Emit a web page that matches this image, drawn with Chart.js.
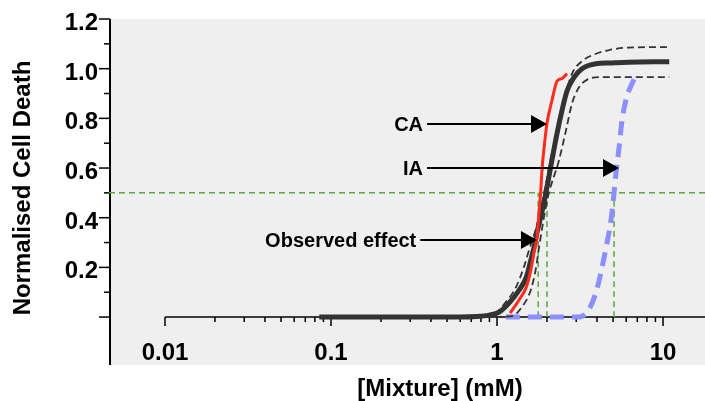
<!DOCTYPE html>
<html>
<head>
<meta charset="utf-8">
<script src="https://cdn.jsdelivr.net/npm/chart.js@4/dist/chart.umd.min.js"></script>
<style>
  html, body { margin: 0; padding: 0; background: #fff; }
</style>
</head>
<body>
<canvas id="doseChart" width="705" height="401"></canvas>
<script>
// Observed mixture effect (fitted curve) and its confidence band
var observedX = [0.085, 0.6, 0.75, 0.895, 1.03, 1.18, 1.36, 1.50, 1.60, 1.67, 1.74, 1.86, 1.97, 2.14, 2.30, 2.46, 2.64, 2.91, 3.25, 3.95, 4.73, 6.2, 10.9];
var observedY = [0, 0, 0.002, 0.008, 0.02, 0.056, 0.109, 0.16, 0.23, 0.28, 0.34, 0.42, 0.50, 0.63, 0.74, 0.83, 0.91, 0.965, 1.0, 1.02, 1.023, 1.026, 1.028];

var upperX = [0.085, 0.6, 0.93, 1.13, 1.30, 1.45, 1.56, 1.74, 1.95, 2.14, 2.43, 2.60, 2.83, 3.25, 3.95, 4.73, 6.24, 10.9];
var upperY = [0, 0, 0.008, 0.06, 0.12, 0.20, 0.27, 0.37, 0.52, 0.66, 0.80, 0.90, 0.98, 1.03, 1.06, 1.075, 1.085, 1.087];

var lowerX = [0.085, 0.8, 1.23, 1.41, 1.60, 1.72, 1.79, 2.02, 2.36, 2.60, 2.83, 3.12, 3.48, 4.11, 10.9];
var lowerY = [0, 0, 0.004, 0.04, 0.11, 0.20, 0.28, 0.48, 0.63, 0.75, 0.86, 0.925, 0.955, 0.966, 0.966];

// Concentration addition (CA) prediction
var caX = [1.20, 1.36, 1.50, 1.60, 1.67, 1.74, 1.79, 1.83, 1.87, 1.92, 2.0, 2.14, 2.30, 2.46, 2.64];
var caY = [0.016, 0.07, 0.12, 0.19, 0.26, 0.32, 0.42, 0.50, 0.60, 0.68, 0.78, 0.87, 0.95, 0.96, 0.98];

// Independent action (IA) prediction
var iaX = [1.13, 3.12, 3.35, 3.58, 3.95, 4.23, 4.54, 4.86, 5.07, 5.21, 5.43, 5.66, 6.07, 6.51, 6.88];
var iaY = [0, 0, 0.008, 0.03, 0.10, 0.18, 0.28, 0.39, 0.50, 0.58, 0.68, 0.79, 0.89, 0.94, 0.974];

// 50 % effect guide and EC50 drop lines (CA, observed, IA)
var halfEffect = 0.5;
var ec50X = [1.77, 2.0, 5.07];

// axis ranges and ticks
var xRange = [0.0046, 17.9];
var yRange = [-0.193, 1.2];
var xMajorTicks = [0.01, 0.1, 1, 10];
var xTickLabels = ['0.01', '0.1', '1', '10'];
var xMinorTicks = [0.02, 0.03, 0.04, 0.05, 0.06, 0.07, 0.08, 0.09,
                   0.2, 0.3, 0.4, 0.5, 0.6, 0.7, 0.8, 0.9,
                   2, 3, 4, 5, 6, 7, 8, 9];
var yMajorTicks = [0, 0.2, 0.4, 0.6, 0.8, 1.0, 1.2];
var yTickLabels = ['', '0.2', '0.4', '0.6', '0.8', '1.0', '1.2'];
var yMinorTicks = [0.1, 0.3, 0.5, 0.7, 0.9, 1.1];

// arrow annotations: label, arrow start x, arrow tip x, y
var noteLabels = ['CA', 'IA', 'Observed effect'];
var noteStartX = [0.379, 0.379, 0.345];
var noteTipX = [2.0, 5.43, 1.74];
var noteY = [0.777, 0.60, 0.31];

function pts(xs, ys) {
    return xs.map(function (x, i) { return { x: x, y: ys[i] }; });
}

var FONT = '"Liberation Sans", Arial, sans-serif';
var GREEN = '#5ca83c';

var datasets = [
    { label: 'CA', data: pts(caX, caY), borderColor: '#ff2b1c', borderWidth: 3 },
    { label: 'Observed', data: pts(observedX, observedY), borderColor: '#333333', borderWidth: 5 },
    { label: 'Upper', data: pts(upperX, upperY), borderColor: '#333333', borderWidth: 1.8, borderDash: [7, 4] },
    { label: 'Lower', data: pts(lowerX, lowerY), borderColor: '#333333', borderWidth: 1.8, borderDash: [7, 4] },
    { label: 'IA', data: pts(iaX, iaY), borderColor: '#8c8fff', borderWidth: 5, borderDash: [14, 8] },
    { label: 'half', data: pts(xRange, [halfEffect, halfEffect]), borderColor: GREEN, borderWidth: 1.5, borderDash: [6, 4] }
];
ec50X.forEach(function (x) {
    datasets.push({ label: 'ec50', data: pts([x, x], [0, halfEffect]), borderColor: GREEN, borderWidth: 1.5, borderDash: [6, 4] });
});
datasets.forEach(function (d) {
    d.pointRadius = 0;
    d.fill = false;
    d.cubicInterpolationMode = 'monotone';
});

var axesPlugin = {
    id: 'prismAxes',
    beforeDatasetsDraw: function (chart) {
        var ctx = chart.ctx, a = chart.chartArea;
        var xs = chart.scales.x, ys = chart.scales.y;
        ctx.save();
        ctx.fillStyle = '#efefef';
        ctx.fillRect(a.left, a.top, a.right - a.left, a.bottom - a.top);

        ctx.strokeStyle = '#000';
        ctx.fillStyle = '#000';

        // y axis
        var ax = a.left + 1;
        ctx.lineWidth = 2;
        ctx.beginPath();
        ctx.moveTo(ax, a.top);
        ctx.lineTo(ax, a.bottom);
        ctx.stroke();
        ctx.lineWidth = 1.5;
        ctx.font = 'bold 24px ' + FONT;
        ctx.textAlign = 'right';
        ctx.textBaseline = 'alphabetic';
        yMajorTicks.forEach(function (v, i) {
            var py = ys.getPixelForValue(v);
            ctx.beginPath();
            ctx.moveTo(ax, py);
            ctx.lineTo(ax - 11, py);
            ctx.stroke();
            ctx.fillText(yTickLabels[i], ax - 12, py + 11);
        });
        yMinorTicks.forEach(function (v) {
            var py = ys.getPixelForValue(v);
            ctx.beginPath();
            ctx.moveTo(ax, py);
            ctx.lineTo(ax - 6, py);
            ctx.stroke();
        });

        // x axis at zero
        var y0 = ys.getPixelForValue(0);
        ctx.beginPath();
        ctx.moveTo(xs.getPixelForValue(xMajorTicks[0]), y0);
        ctx.lineTo(a.right, y0);
        ctx.stroke();
        ctx.textAlign = 'center';
        xMajorTicks.forEach(function (v, i) {
            var px = xs.getPixelForValue(v);
            ctx.beginPath();
            ctx.moveTo(px, y0);
            ctx.lineTo(px, y0 + 9);
            ctx.stroke();
            ctx.fillText(xTickLabels[i], px, y0 + 43);
        });
        xMinorTicks.forEach(function (v) {
            var px = xs.getPixelForValue(v);
            ctx.beginPath();
            ctx.moveTo(px, y0);
            ctx.lineTo(px, y0 + 5);
            ctx.stroke();
        });

        // axis titles
        ctx.fillText('[Mixture] (mM)', 440, 396);
        ctx.translate(23, 188);
        ctx.rotate(-Math.PI / 2);
        ctx.textBaseline = 'middle';
        ctx.fillText('Normalised Cell Death', 0, 0);
        ctx.restore();
    },
    afterDatasetsDraw: function (chart) {
        var ctx = chart.ctx;
        var xs = chart.scales.x, ys = chart.scales.y;
        ctx.save();
        ctx.strokeStyle = '#000';
        ctx.fillStyle = '#000';
        ctx.lineWidth = 2;
        ctx.font = 'bold 20px ' + FONT;
        ctx.textAlign = 'right';
        ctx.textBaseline = 'middle';
        noteLabels.forEach(function (label, i) {
            var x1 = xs.getPixelForValue(noteStartX[i]);
            var x2 = xs.getPixelForValue(noteTipX[i]);
            var py = ys.getPixelForValue(noteY[i]);
            ctx.beginPath();
            ctx.moveTo(x1, py);
            ctx.lineTo(x2 - 14, py);
            ctx.stroke();
            ctx.beginPath();
            ctx.moveTo(x2, py);
            ctx.lineTo(x2 - 16, py - 9);
            ctx.lineTo(x2 - 16, py + 9);
            ctx.closePath();
            ctx.fill();
            ctx.fillText(label, x1 - 4, py + 1);
        });
        ctx.restore();
    }
};

new Chart(document.getElementById('doseChart').getContext('2d'), {
    type: 'line',
    data: { datasets: datasets },
    options: {
        responsive: false,
        animation: false,
        events: [],
        layout: { padding: { left: 109, top: 19, right: 0, bottom: 36 } },
        plugins: { legend: { display: false }, tooltip: { enabled: false } },
        scales: {
            x: { type: 'logarithmic', display: false, min: xRange[0], max: xRange[1], bounds: 'data' },
            y: { type: 'linear', display: false, min: yRange[0], max: yRange[1], bounds: 'data' }
        }
    },
    plugins: [axesPlugin]
});
</script>
</body>
</html>
